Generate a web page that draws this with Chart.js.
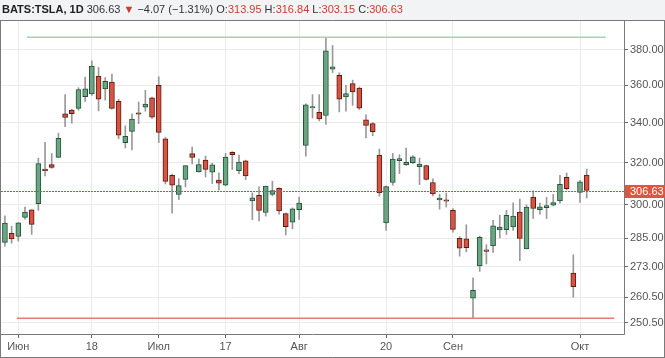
<!DOCTYPE html>
<html><head><meta charset="utf-8">
<script src="https://cdn.jsdelivr.net/npm/chart.js@4.4.1/dist/chart.umd.min.js"></script>
<style>
html,body{margin:0;padding:0;background:#fff;}
#wrap{position:relative;width:665px;height:358px;overflow:hidden;}
#hdr{position:absolute;left:0;top:0;width:665px;height:20px;background:#f1f3f5;}
#txt{position:absolute;left:2px;top:3px;font:11px "Liberation Sans",Arial,sans-serif;color:#333;white-space:nowrap;}
#txt b{font-weight:bold;color:#222;}
#txt .r{color:#cf3b2f;}
canvas{position:absolute;left:0;top:0;}
</style></head>
<body><div id="wrap"><div id="hdr"></div><canvas id="c" width="665" height="358"></canvas><div id="txt"></div></div>
<script>
const symbol = "BATS:TSLA, 1D";
const dates = ["2018-05-30","2018-05-31",
"2018-06-01","2018-06-04","2018-06-05","2018-06-06","2018-06-07","2018-06-08","2018-06-11","2018-06-12","2018-06-13","2018-06-14","2018-06-15","2018-06-18","2018-06-19","2018-06-20","2018-06-21","2018-06-22","2018-06-25","2018-06-26","2018-06-27","2018-06-28","2018-06-29",
"2018-07-02","2018-07-03","2018-07-05","2018-07-06","2018-07-09","2018-07-10","2018-07-11","2018-07-12","2018-07-13","2018-07-16","2018-07-17","2018-07-18","2018-07-19","2018-07-20","2018-07-23","2018-07-24","2018-07-25","2018-07-26","2018-07-27","2018-07-30","2018-07-31",
"2018-08-01","2018-08-02","2018-08-03","2018-08-06","2018-08-07","2018-08-08","2018-08-09","2018-08-10","2018-08-13","2018-08-14","2018-08-15","2018-08-16","2018-08-17","2018-08-20","2018-08-21","2018-08-22","2018-08-23","2018-08-24","2018-08-27","2018-08-28","2018-08-29","2018-08-30","2018-08-31",
"2018-09-04","2018-09-05","2018-09-06","2018-09-07","2018-09-10","2018-09-11","2018-09-12","2018-09-13","2018-09-14","2018-09-17","2018-09-18","2018-09-19","2018-09-20","2018-09-21","2018-09-24","2018-09-25","2018-09-26","2018-09-27","2018-09-28",
"2018-10-01","2018-10-02"];
const open = [283.29,287.21,
285.86,294.34,297.70,300.50,316.15,319.00,322.51,344.70,346.71,347.63,353.84,355.40,365.16,358.04,361.90,351.30,329.80,335.60,345.20,348.30,353.30,
360.07,331.75,313.76,304.80,311.90,324.40,315.50,321.20,315.30,311.60,309.10,325.00,316.10,320.90,301.80,304.40,296.50,304.80,307.60,296.00,292.20,
297.80,328.44,347.81,345.46,343.84,369.09,365.55,353.70,361.00,358.50,341.60,339.60,323.70,291.80,310.40,320.87,318.90,320.00,318.00,318.50,310.40,302.20,302.10,
297.50,285.00,284.80,260.10,273.26,279.60,281.70,288.70,288.80,290.00,296.69,280.51,303.60,297.80,298.70,299.80,301.80,312.90,270.26,
305.77,313.95];
const high = [295.01,290.37,
291.95,299.00,297.80,322.17,330.00,324.48,334.66,354.97,347.20,358.75,364.67,373.73,370.00,364.36,366.30,352.40,338.50,344.70,351.00,357.30,353.70,
364.78,332.49,314.39,312.20,318.40,327.60,321.70,323.20,319.70,315.00,324.50,325.40,323.70,321.20,305.50,308.30,308.70,311.00,307.90,296.30,298.60,
303.60,349.99,355.00,354.98,387.46,382.64,367.01,360.00,362.90,359.10,344.20,340.20,326.70,308.70,324.50,323.88,327.20,323.40,322.20,318.80,312.20,304.90,305.50,
298.30,285.80,291.00,268.35,286.03,282.30,293.00,295.30,297.50,300.90,302.64,300.00,306.50,300.80,303.40,304.80,313.80,314.96,278.00,
311.44,316.84];
const low = [281.60,282.93,
283.84,293.55,286.74,297.48,313.58,317.20,322.50,338.00,339.80,346.60,351.25,354.50,346.25,352.00,347.20,331.80,327.20,326.20,339.60,346.10,342.30,
329.85,309.69,296.22,302.40,308.30,319.30,315.30,313.00,309.90,306.80,308.80,316.60,314.60,311.80,293.30,292.70,294.90,304.10,295.70,286.50,289.20,
293.40,323.16,342.53,341.02,339.15,367.12,345.73,346.10,349.20,347.00,332.30,333.40,304.00,288.50,309.10,314.67,318.60,319.50,309.40,311.50,304.10,298.00,299.00,
287.70,277.40,279.20,252.25,271.00,274.10,279.00,285.20,286.70,288.50,275.50,280.50,293.80,295.70,293.80,299.50,300.80,306.91,260.55,
301.05,303.15];
const close = [291.72,284.73,
291.82,296.74,291.13,319.50,316.09,317.66,332.10,342.77,344.78,357.72,358.17,370.83,352.55,362.22,347.51,333.63,333.01,342.00,344.50,349.93,342.95,
335.07,310.86,309.16,308.90,318.51,322.47,318.96,316.71,318.87,310.10,322.69,323.85,320.23,313.58,303.20,297.43,308.74,306.65,297.18,290.17,298.14,
300.84,349.54,348.17,341.99,379.57,370.34,352.45,355.49,356.41,347.64,338.69,335.45,305.50,308.44,321.64,321.90,320.10,322.82,319.27,311.86,305.01,303.15,301.66,
288.95,280.74,280.95,263.24,285.50,279.44,290.54,290.00,295.20,294.84,284.96,299.02,298.33,299.10,299.68,300.99,309.58,307.52,264.77,
310.70,306.63];
const xTickIndex = [2,13,23,33,44,57,67,86];
const xTickText = ["Июн","18","Июл","17","Авг","20","Сен","Окт"];
const yTicks = [250.5,260.5,273,285,300,320,340,360,380];
// horizontal drawn levels: [value, fromIndex, toIndex]
const greenLevel = [387.46, 3.3, 89.84];
const redLevel = [252.25, 1.76, 91.13];

const UP='#6ba583', UPB='#225437', DN='#d75442', DNB='#5b1a13';
const n = dates.length, last = n-1;
const idx = dates.map((d,i)=>i);
const isUp = idx.map(i=>close[i]>=open[i]);
const chg = close[last]-close[last-1];
const pct = chg/close[last-1]*100;
const f2 = v=>v.toFixed(2);
const neg = v=>(v<0?'\u2212':'')+Math.abs(v).toFixed(2);
document.getElementById('txt').innerHTML =
 '<b>'+symbol+'</b> '+f2(close[last])+' <span class="r">'+(chg<0?'\u25BC':'\u25B2')+'</span> '+neg(chg)+' ('+neg(pct)+'%) '+
 'O:<span class="r">'+f2(open[last])+'</span> H:<span class="r">'+f2(high[last])+'</span> L:<span class="r">'+f2(low[last])+'</span> C:<span class="r">'+f2(close[last])+'</span>';

const overlay = {
 id:'overlay',
 afterDatasetsDraw(chart){
  const c=chart.ctx, a=chart.chartArea, y=chart.scales.y;
  const py=Math.round(y.getPixelForValue(close[last]));
  c.save();
  c.fillStyle='#f0402a';
  for(let x=a.left; x<a.right; x+=3){ c.fillRect(x,py,2,1); }
  c.restore();
 },
 afterDraw(chart){
  const c=chart.ctx, a=chart.chartArea, y=chart.scales.y, W=chart.width, H=chart.height;
  c.save();
  c.strokeStyle='#7a7a7a'; c.lineWidth=1;
  c.beginPath();
  c.moveTo(0,a.top-0.5); c.lineTo(W,a.top-0.5);
  c.moveTo(a.left-0.5,a.top-0.5); c.lineTo(a.left-0.5,H);
  c.moveTo(a.right+0.5,a.top-0.5); c.lineTo(a.right+0.5,a.bottom+0.5);
  c.moveTo(a.left-0.5,a.bottom+0.5); c.lineTo(a.right+0.5,a.bottom+0.5);
  c.moveTo(0,H-0.5); c.lineTo(W,H-0.5);
  c.moveTo(W-0.5,a.top-0.5); c.lineTo(W-0.5,H);
  c.stroke();
  const py=Math.round(y.getPixelForValue(close[last]));
  c.fillStyle='#df5640';
  c.fillRect(a.right+1,py-6,W-a.right-1,13);
  c.fillStyle='#ffffff'; c.font='11px "Liberation Sans",Arial,sans-serif';
  c.textBaseline='middle'; c.textAlign='left';
  c.fillText(f2(close[last]),a.right+6,py+0.5);
  c.restore();
 }
};

new Chart(document.getElementById('c'),{
 type:'bar',
 data:{datasets:[
  {type:'line',data:[{x:greenLevel[1],y:greenLevel[0]},{x:greenLevel[2],y:greenLevel[0]}],borderColor:'#a3d3b3',borderWidth:1.5,pointRadius:0,order:1},
  {type:'line',data:[{x:redLevel[1],y:redLevel[0]},{x:redLevel[2],y:redLevel[0]}],borderColor:'#ec7a6e',borderWidth:1.5,pointRadius:0,order:1},
  {data:idx.map(i=>({x:i,y:[low[i],high[i]]})),backgroundColor:'#999999',barThickness:1,grouped:false,order:3},
  {data:idx.map(i=>({x:i,y:[Math.min(open[i],close[i]),Math.max(open[i],close[i])]})),
   backgroundColor:isUp.map(u=>u?UP:DN),borderColor:isUp.map(u=>u?UPB:DNB),borderWidth:1,borderSkipped:false,
   barThickness:5,minBarLength:1.5,grouped:false,order:2}
 ]},
 options:{
  responsive:false,animation:false,devicePixelRatio:1,
  layout:{padding:{left:1,top:21,right:0,bottom:0}},
  plugins:{legend:{display:false},tooltip:{enabled:false}},
  scales:{
   x:{type:'linear',min:-0.587,max:92.58,offset:false,
      grid:{offset:false,color:'#ebebeb',tickColor:'#666',tickLength:4,drawTicks:true},
      border:{display:false},
      afterBuildTicks:s=>{s.ticks=xTickIndex.map(v=>({value:v}));},
      ticks:{autoSkip:false,maxRotation:0,padding:2,color:'#555',font:{family:'"Liberation Sans",Arial,sans-serif',size:11},
        callback:v=>{const k=xTickIndex.indexOf(v);return k>=0?xTickText[k]:'';}},
      afterFit:s=>{s.height=24;}},
   y:{type:'logarithmic',position:'right',min:246.3,max:397.2,
      grid:{color:'#ebebeb',tickColor:'#666',tickLength:4,drawTicks:true},
      border:{display:false},
      afterBuildTicks:s=>{s.ticks=yTicks.map(v=>({value:v}));},
      ticks:{autoSkip:false,padding:2,color:'#555',font:{family:'"Liberation Sans",Arial,sans-serif',size:11},callback:v=>Number(v).toFixed(2)},
      afterFit:s=>{s.width=41;}}
  }
 },
 plugins:[overlay]
});
</script></body></html>
